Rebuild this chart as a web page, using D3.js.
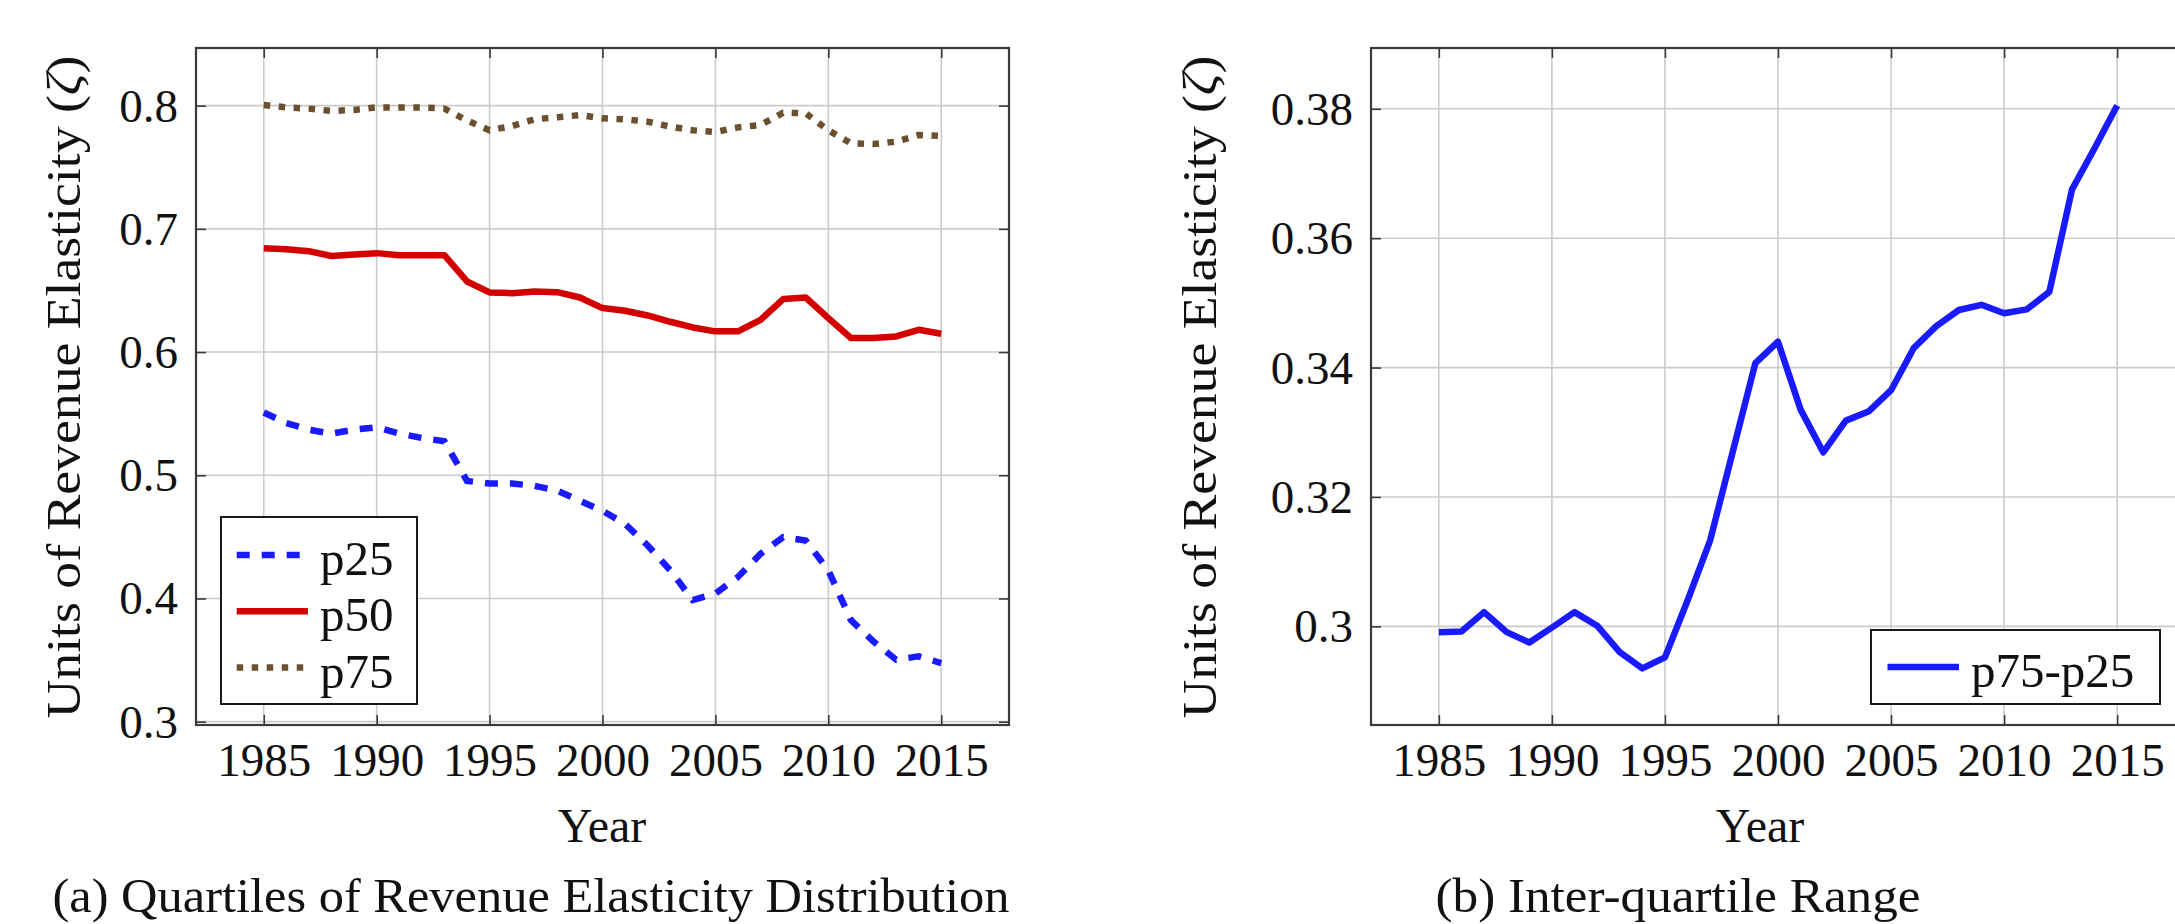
<!DOCTYPE html>
<html>
<head>
<meta charset="utf-8">
<script src="https://cdn.jsdelivr.net/npm/d3@7"></script>
<style>
  html, body { margin: 0; padding: 0; background: #ffffff; }
  svg { display: block; }
</style>
</head>
<body>
<div id="chart"></div>
<script>
// Data
const years = [1985, 1986, 1987, 1988, 1989, 1990, 1991, 1992, 1993, 1994,
  1995, 1996, 1997, 1998, 1999, 2000, 2001, 2002, 2003, 2004,
  2005, 2006, 2007, 2008, 2009, 2010, 2011, 2012, 2013, 2014, 2015];

const p25 = [0.551, 0.5424, 0.537, 0.5338, 0.537, 0.5389, 0.5338, 0.5303, 0.5276, 0.4954,
  0.4933, 0.4933, 0.4914, 0.4874, 0.4793, 0.4712, 0.4605, 0.443, 0.4228, 0.3987,
  0.404, 0.4175, 0.4363, 0.4497, 0.447, 0.4228, 0.3825, 0.365, 0.3503, 0.353, 0.3476];

const p50 = [0.6843, 0.6835, 0.6819, 0.678, 0.6792, 0.6803, 0.6786, 0.6786, 0.6786, 0.6573,
  0.6484, 0.6478, 0.6492, 0.6486, 0.6443, 0.6357, 0.6335, 0.6297, 0.6246, 0.62,
  0.6168, 0.6168, 0.6262, 0.643, 0.6443, 0.6276, 0.6114, 0.6114, 0.6127, 0.6181, 0.6149];

const p75 = [0.8005, 0.7986, 0.7976, 0.7957, 0.7965, 0.7986, 0.7986, 0.7986, 0.7976, 0.788,
  0.780, 0.7835, 0.789, 0.7905, 0.7924, 0.7897, 0.789, 0.787, 0.783, 0.780,
  0.7786, 0.7824, 0.7843, 0.7943, 0.7938, 0.780, 0.7695, 0.7689, 0.7708, 0.7762, 0.7754];

const iqr = [0.2991, 0.2992, 0.3022, 0.2991, 0.2975, 0.2998, 0.3022, 0.3001, 0.296, 0.2935,
  0.2952, 0.304, 0.3133, 0.327, 0.3407, 0.344, 0.3335, 0.3269, 0.3318, 0.3332,
  0.3365, 0.343, 0.3464, 0.3489, 0.3497, 0.3484, 0.349, 0.3517, 0.3675, 0.3739, 0.3805];

const xTickValues = [1985, 1990, 1995, 2000, 2005, 2010, 2015];
const quartileTicks = [0.3, 0.4, 0.5, 0.6, 0.7, 0.8];
const quartileTickLabels = ["0.3", "0.4", "0.5", "0.6", "0.7", "0.8"];
const iqrTicks = [0.3, 0.32, 0.34, 0.36, 0.38];
const iqrTickLabels = ["0.3", "0.32", "0.34", "0.36", "0.38"];

const quartileNames = ["p25", "p50", "p75"];
const iqrName = "p75-p25";
const xLabel = "Year";
const yLabel = "Units of Revenue Elasticity (";
const captionA = "(a) Quartiles of Revenue Elasticity Distribution";
const captionB = "(b) Inter-quartile Range";

// Define colors
var blueLine = "#1a1aff";
var redLine = "#d40000";
var brownLine = "#6b5030";
var gridColor = "#cbcbcb";
var axisColor = "#3a3a3a";
var textColor = "#111111";

// Define dimensions
const width = 2175;
const height = 924;
const plotTop = 48;
const plotBottom = 725;
const tickLen = 10;
const lineWidth = 6.5;
const fontFamily = "'Liberation Serif', 'Times New Roman', serif";
const tickFont = "47px";
const labelFont = "48px";
const legendFont = "49px";

/*
Draw one axis box with grid, ticks, labels and lines.
*/
function drawPanel(svg, panel) {
  let x = d3.scaleLinear().domain(panel.xDomain).range([panel.left, panel.right]);
  let y = d3.scaleLinear().domain(panel.yDomain).range([plotBottom, plotTop]);
  let g = svg.append("g");

  // Grid lines
  g.selectAll("line.vgrid")
    .data(xTickValues)
    .enter()
    .append("line")
    .attr("class", "vgrid")
    .attr("x1", d => x(d))
    .attr("x2", d => x(d))
    .attr("y1", plotTop)
    .attr("y2", plotBottom)
    .attr("stroke", gridColor)
    .attr("stroke-width", 1.6);

  g.selectAll("line.hgrid")
    .data(panel.yTicks)
    .enter()
    .append("line")
    .attr("class", "hgrid")
    .attr("x1", panel.left)
    .attr("x2", panel.right)
    .attr("y1", d => y(d))
    .attr("y2", d => y(d))
    .attr("stroke", gridColor)
    .attr("stroke-width", 1.6);

  // Axes with inward ticks on all four sides
  let bottomAxis = d3.axisBottom(x)
    .tickValues(xTickValues)
    .tickFormat(d3.format("d"))
    .tickSize(-tickLen)
    .tickPadding(18);
  let topAxis = d3.axisTop(x).tickValues(xTickValues).tickFormat("").tickSize(-tickLen);
  let leftAxis = d3.axisLeft(y)
    .tickValues(panel.yTicks)
    .tickFormat((d, i) => panel.yTickLabels[i])
    .tickSize(-tickLen)
    .tickPadding(18);
  let rightAxis = d3.axisRight(y).tickValues(panel.yTicks).tickFormat("").tickSize(-tickLen);

  let gBottom = g.append("g").attr("transform", `translate(0,${plotBottom})`).call(bottomAxis).call(axisStyle);
  g.append("g").attr("transform", `translate(0,${plotTop})`).call(topAxis).call(axisStyle);
  let gLeft = g.append("g").attr("transform", `translate(${panel.left},0)`).call(leftAxis).call(axisStyle);
  g.append("g").attr("transform", `translate(${panel.right},0)`).call(rightAxis).call(axisStyle);

  gBottom.selectAll(".tick text").attr("dy", null).attr("y", 51);
  gLeft.selectAll(".tick text").attr("dy", "0.33em");

  // Box
  g.append("rect")
    .attr("x", panel.left)
    .attr("y", plotTop)
    .attr("width", panel.right - panel.left)
    .attr("height", plotBottom - plotTop)
    .attr("fill", "none")
    .attr("stroke", axisColor)
    .attr("stroke-width", 2.2);

  // Series
  let line = d3.line()
    .x((d, i) => x(years[i]))
    .y(d => y(d));

  g.selectAll("path.series")
    .data(panel.series)
    .enter()
    .append("path")
    .attr("class", "series")
    .attr("d", d => line(d.values))
    .attr("fill", "none")
    .attr("stroke", d => d.color)
    .attr("stroke-width", lineWidth)
    .attr("stroke-dasharray", d => d.dash)
    .attr("stroke-linejoin", d => d.dash ? "miter" : "round")
    .attr("stroke-linecap", "butt");

  // Axis labels
  g.append("text")
    .text(xLabel)
    .attr("x", panel.xLabelX)
    .attr("y", 842)
    .attr("text-anchor", "middle")
    .call(textAttr, textColor, fontFamily, labelFont);

  let yText = g.append("text")
    .attr("transform", `translate(${panel.yLabelX},387) rotate(-90)`)
    .attr("text-anchor", "middle")
    .attr("textLength", 663)
    .attr("lengthAdjust", "spacingAndGlyphs")
    .call(textAttr, textColor, fontFamily, labelFont);
  yText.append("tspan").text(yLabel);
  yText.append("tspan").text("\u03b6").attr("font-style", "italic");
  yText.append("tspan").text(")");

  // Caption, kept just inside the bottom edge
  g.append("text")
    .text(panel.caption)
    .attr("x", panel.captionX)
    .attr("y", 912)
    .attr("text-anchor", "middle")
    .attr("textLength", panel.captionLength)
    .attr("lengthAdjust", "spacingAndGlyphs")
    .call(textAttr, textColor, fontFamily, labelFont);

  drawLegend(g, panel.legend, panel.series);
}

/*
Legend box with line samples.
*/
function drawLegend(g, legend, series) {
  g.append("rect")
    .attr("x", legend.x)
    .attr("y", legend.y)
    .attr("width", legend.width)
    .attr("height", legend.height)
    .attr("fill", "#ffffff")
    .attr("stroke", "#1a1a1a")
    .attr("stroke-width", 2);

  let rows = g.selectAll("g.legend-row")
    .data(series)
    .enter()
    .append("g")
    .attr("class", "legend-row")
    .attr("transform", (d, i) => `translate(0,${legend.firstRow + i * legend.rowStep})`);

  rows.append("line")
    .attr("x1", legend.sampleX1)
    .attr("x2", legend.sampleX2)
    .attr("y1", 0)
    .attr("y2", 0)
    .attr("stroke", d => d.color)
    .attr("stroke-width", lineWidth)
    .attr("stroke-dasharray", d => d.dash);

  rows.append("text")
    .text(d => d.name)
    .attr("x", legend.textX)
    .attr("y", 20)
    .call(textAttr, textColor, fontFamily, legendFont);
}

function axisStyle(selection) {
  selection.select(".domain").remove();
  selection.selectAll(".tick line")
    .attr("stroke", axisColor)
    .attr("stroke-width", 1.6);
  selection.selectAll(".tick text")
    .call(textAttr, textColor, fontFamily, tickFont);
}

function textAttr(selection, fill, family, size) {
  selection
    .attr("fill", fill)
    .attr("font-family", family)
    .attr("font-size", size);
}

let svg = d3.select("#chart")
  .append("svg")
  .attr("width", width)
  .attr("height", height);

svg.append("rect").attr("width", width).attr("height", height).attr("fill", "#ffffff");

drawPanel(svg, {
  left: 196,
  right: 1009,
  xDomain: [1982, 2018],
  yDomain: [0.2973, 0.8468],
  yTicks: quartileTicks,
  yTickLabels: quartileTickLabels,
  xLabelX: 602,
  yLabelX: 80,
  caption: captionA,
  captionX: 531,
  captionLength: 957,
  series: [
    { name: quartileNames[0], values: p25, color: blueLine, dash: "13 12" },
    { name: quartileNames[1], values: p50, color: redLine, dash: null },
    { name: quartileNames[2], values: p75, color: brownLine, dash: "6.5 8.5" }
  ],
  legend: {
    x: 221, y: 517, width: 196, height: 187,
    firstRow: 555, rowStep: 56.3,
    sampleX1: 236.7, sampleX2: 308, textX: 320
  }
});

drawPanel(svg, {
  left: 1371,
  right: 2185,
  xDomain: [1982, 2018],
  yDomain: [0.28475, 0.3894],
  yTicks: iqrTicks,
  yTickLabels: iqrTickLabels,
  xLabelX: 1760,
  yLabelX: 1216,
  caption: captionB,
  captionX: 1678,
  captionLength: 485,
  series: [
    { name: iqrName, values: iqr, color: blueLine, dash: null }
  ],
  legend: {
    x: 1871, y: 630, width: 289, height: 74,
    firstRow: 667, rowStep: 0,
    sampleX1: 1887.5, sampleX2: 1959, textX: 1971
  }
});
</script>
</body>
</html>
